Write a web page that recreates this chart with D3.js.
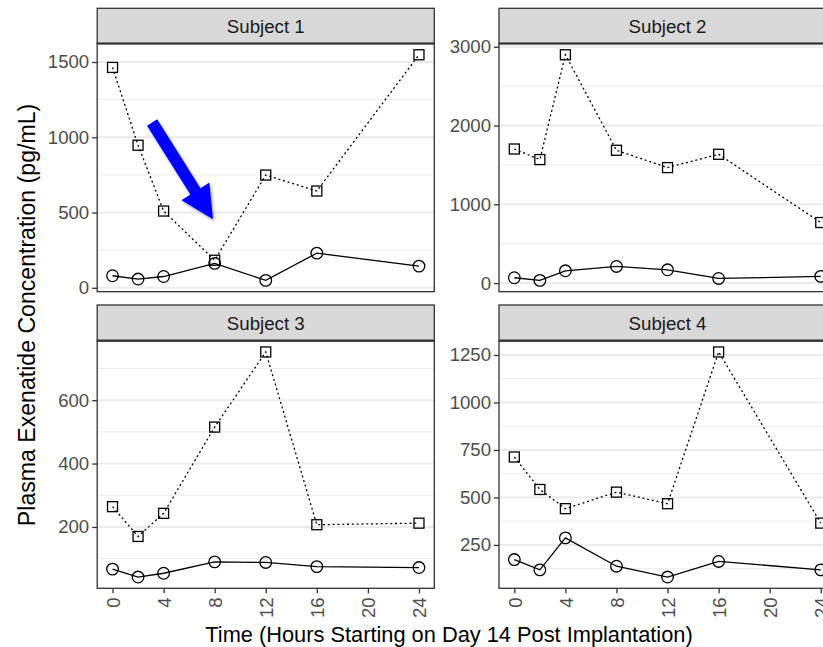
<!DOCTYPE html>
<html>
<head>
<meta charset="utf-8">
<script src="https://cdn.jsdelivr.net/npm/d3@7"></script>
<style>
  html, body { margin: 0; padding: 0; background: #fff; }
  svg { display: block; font-family: "Liberation Sans", Arial, Helvetica, sans-serif; }
</style>
</head>
<body>
<svg id="chart" width="823" height="647"></svg>
<script>
// ---------------- data ----------------
const times = [0, 2, 4, 8, 12, 16, 24];
const subjects = ["Subject 1", "Subject 2", "Subject 3", "Subject 4"];

const squareS1 = [1464, 947, 510, 183, 749, 643, 1548];
const circleS1 = [80, 58, 75, 162, 49, 230, 144];
const squareS2 = [1702, 1568, 2898, 1686, 1466, 1635, 769];
const circleS2 = [68, 34, 156, 211, 169, 59, 85];
const squareS3 = [264, 170, 243, 515, 752, 207, 212];
const circleS3 = [67, 42, 54, 90, 88, 75, 72];
const squareS4 = [713, 542, 441, 528, 467, 1266, 365];
const circleS4 = [173, 119, 287, 138, 81, 163, 119];

const yTicks1 = [0, 500, 1000, 1500];
const yTicks2 = [0, 1000, 2000, 3000];
const yTicks3 = [200, 400, 600];
const yTicks4 = [250, 500, 750, 1000, 1250];
const xTicks = [0, 4, 8, 12, 16, 20, 24];

const xTitle = "Time (Hours Starting on Day 14 Post Implantation)";
const yTitle = "Plasma Exenatide Concentration (pg/mL)";

// arrow annotation in Subject 1 data units (time, concentration)
const arrowTail = [3.1, 1098];
const arrowTip = [7.87, 455];

// ---------------- layout ----------------
const svg = d3.select("#chart");
const defs = svg.append("defs");
const f = defs.append("filter").attr("id", "shadow").attr("x", "-30%").attr("y", "-30%").attr("width", "160%").attr("height", "160%");
f.append("feDropShadow").attr("dx", 1.5).attr("dy", 2).attr("stdDeviation", 1.5).attr("flood-color", "#000").attr("flood-opacity", 0.35);

const colX = [[97.2, 434.3], [499, 836.1]];
const rowY = [{ stripTop: 8.3, top: 43.5, bottom: 291.7 }, { stripTop: 305, top: 340.7, bottom: 588.3 }];

const panels = [
  { name: subjects[0], sq: squareS1, ci: circleS1, ticks: yTicks1, col: 0, row: 0 },
  { name: subjects[1], sq: squareS2, ci: circleS2, ticks: yTicks2, col: 1, row: 0 },
  { name: subjects[2], sq: squareS3, ci: circleS3, ticks: yTicks3, col: 0, row: 1 },
  { name: subjects[3], sq: squareS4, ci: circleS4, ticks: yTicks4, col: 1, row: 1 },
];

const tickFont = 18.6;
const stripFont = 18.7;
const xTitleFont = 21.8;
const yTitleFont = 23.1;

const xExtent = d3.extent(times);
const xPad = (xExtent[1] - xExtent[0]) * 0.05;

let panel1Scales = null;

panels.forEach(p => {
  const [x0, x1] = colX[p.col];
  const r = rowY[p.row];
  const x = d3.scaleLinear().domain([xExtent[0] - xPad, xExtent[1] + xPad]).range([x0, x1]);
  const all = p.sq.concat(p.ci);
  const ext = d3.extent(all);
  const yPad = (ext[1] - ext[0]) * 0.05;
  const y = d3.scaleLinear().domain([ext[0] - yPad, ext[1] + yPad]).range([r.bottom, r.top]);
  if (p.col === 0 && p.row === 0) panel1Scales = { x, y };

  const g = svg.append("g");

  // minor grid
  const step = p.ticks[1] - p.ticks[0];
  const dom = y.domain();
  const minors = [];
  for (let v = p.ticks[0] - step / 2; v <= dom[1]; v += step) {
    if (v >= dom[0]) minors.push(v);
  }
  g.selectAll(".minor").data(minors).join("line")
    .attr("x1", x0).attr("x2", x1)
    .attr("y1", d => y(d)).attr("y2", d => y(d))
    .attr("stroke", "#EBEBEB").attr("stroke-width", 1);
  // major grid
  g.selectAll(".major").data(p.ticks).join("line")
    .attr("x1", x0).attr("x2", x1)
    .attr("y1", d => y(d)).attr("y2", d => y(d))
    .attr("stroke", "#EBEBEB").attr("stroke-width", 2);

  const sqData = times.map((t, i) => [t, p.sq[i]]);
  const ciData = times.map((t, i) => [t, p.ci[i]]);
  const line = d3.line().x(d => x(d[0])).y(d => y(d[1]));

  g.append("path").datum(sqData).attr("d", line)
    .attr("fill", "none").attr("stroke", "#000").attr("stroke-width", 1.3)
    .attr("stroke-dasharray", "2,2.8");
  g.append("path").datum(ciData).attr("d", line)
    .attr("fill", "none").attr("stroke", "#000").attr("stroke-width", 1.3);

  const s = 10;
  g.selectAll(".sq").data(sqData).join("rect")
    .attr("x", d => x(d[0]) - s / 2).attr("y", d => y(d[1]) - s / 2)
    .attr("width", s).attr("height", s)
    .attr("fill", "none").attr("stroke", "#000").attr("stroke-width", 1.3);
  g.selectAll(".ci").data(ciData).join("circle")
    .attr("cx", d => x(d[0])).attr("cy", d => y(d[1])).attr("r", 5.8)
    .attr("fill", "none").attr("stroke", "#000").attr("stroke-width", 1.3);

  // panel border
  g.append("rect").attr("x", x0).attr("y", r.top).attr("width", x1 - x0).attr("height", r.bottom - r.top)
    .attr("fill", "none").attr("stroke", "#333333").attr("stroke-width", 1.3);

  // strip
  g.append("rect").attr("x", x0).attr("y", r.stripTop).attr("width", x1 - x0).attr("height", r.top - r.stripTop)
    .attr("fill", "#D9D9D9").attr("stroke", "#333333").attr("stroke-width", 1.3);
  g.append("line").attr("x1", x0).attr("x2", x1).attr("y1", r.top).attr("y2", r.top)
    .attr("stroke", "#333333").attr("stroke-width", 2.2);
  g.append("text").attr("x", (x0 + x1) / 2).attr("y", (r.stripTop + r.top) / 2)
    .attr("dy", "0.36em").attr("text-anchor", "middle")
    .attr("font-size", stripFont).attr("fill", "#1A1A1A").text(p.name);

  // y axis
  const yAxis = g.append("g").attr("transform", `translate(${x0},0)`)
    .call(d3.axisLeft(y).tickValues(p.ticks).tickSize(5).tickPadding(3).tickFormat(d3.format("d")));
  yAxis.select(".domain").remove();
  yAxis.selectAll(".tick line").attr("stroke", "#333333").attr("stroke-width", 1.3);
  yAxis.selectAll(".tick text").attr("fill", "#4D4D4D").attr("font-size", tickFont)
    .attr("font-family", "Liberation Sans, Arial, sans-serif");

  // x axis (bottom row only)
  if (p.row === 1) {
    const xAxis = g.append("g").attr("transform", `translate(0,${r.bottom})`)
      .call(d3.axisBottom(x).tickValues(xTicks).tickSize(5).tickPadding(4).tickFormat(d3.format("d")));
    xAxis.select(".domain").remove();
    xAxis.selectAll(".tick line").attr("stroke", "#333333").attr("stroke-width", 1.3);
    xAxis.selectAll(".tick text").attr("fill", "#4D4D4D").attr("font-size", tickFont)
      .attr("font-family", "Liberation Sans, Arial, sans-serif")
      .attr("transform", "rotate(-90)")
      .attr("text-anchor", "end")
      .attr("x", -9).attr("y", 0).attr("dy", "0.36em");
  }
});

// arrow annotation
(function () {
  const { x, y } = panel1Scales;
  const tx = x(arrowTail[0]), ty = y(arrowTail[1]);
  const hx = x(arrowTip[0]), hy = y(arrowTip[1]);
  const dx = hx - tx, dy = hy - ty;
  const L = Math.hypot(dx, dy);
  const ux = dx / L, uy = dy / L;
  const nx = -uy, ny = ux;
  const shaftW = 12, headL = 33, headW = 33;
  const bx = hx - ux * headL, by = hy - uy * headL;
  const pts = [
    [tx + nx * shaftW / 2, ty + ny * shaftW / 2],
    [bx + nx * shaftW / 2, by + ny * shaftW / 2],
    [bx + nx * headW / 2, by + ny * headW / 2],
    [hx, hy],
    [bx - nx * headW / 2, by - ny * headW / 2],
    [bx - nx * shaftW / 2, by - ny * shaftW / 2],
    [tx - nx * shaftW / 2, ty - ny * shaftW / 2],
  ];
  svg.append("polygon").attr("points", pts.map(p => p.join(",")).join(" "))
    .attr("fill", "#0000FF").attr("filter", "url(#shadow)");
})();

// axis titles
svg.append("text").attr("x", 449).attr("y", 642)
  .attr("text-anchor", "middle").attr("font-size", xTitleFont).attr("fill", "#000").text(xTitle);
svg.append("text").attr("transform", "translate(35,315) rotate(-90)")
  .attr("text-anchor", "middle").attr("font-size", yTitleFont).attr("fill", "#000").text(yTitle);
</script>
</body>
</html>
